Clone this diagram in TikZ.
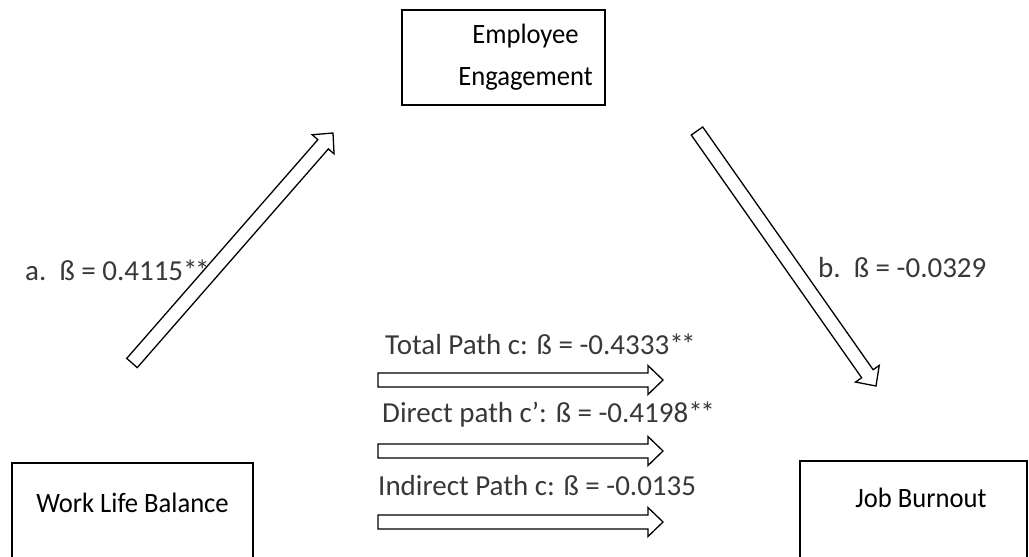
\documentclass[tikz,border=0pt]{standalone}
\usepackage{fontspec}
\setmainfont{Carlito}
\newfontfamily\boxfamily{Carlito}[FakeStretch=0.95]
\usetikzlibrary{calc}

\newcommand{\boxfont}{\boxfamily\fontsize{28}{42}\selectfont}
\newcommand{\pathfont}{\fontsize{29}{34}\selectfont}
\newcommand{\stars}{*\kern-2.5pt*}
%% hollow block arrow from #1 to #2
\newcommand{\hollowarrow}[2]{%
  \coordinate (hbase) at ($(#2)!15pt!(#1)$);
  \draw[arrowline] ($(#1)!7pt!90:(#2)$) -- ($(hbase)!7pt!-90:(#1)$)
    -- ($(hbase)!14.5pt!-90:(#1)$) -- (#2) -- ($(hbase)!14.5pt!90:(#1)$)
    -- ($(hbase)!7pt!90:(#1)$) -- ($(#1)!7pt!-90:(#2)$) -- cycle;}

\begin{document}
\begin{tikzpicture}[x=1pt,y=-1pt,
    box/.style={draw,line width=1.6pt,inner sep=0pt,font=\boxfont},
    arrowline/.style={draw,line width=1.3pt,line join=miter,fill=white},
    pathlbl/.style={anchor=west,inner sep=0pt,font=\pathfont,text=black!78}]
  \useasboundingbox (0,0) rectangle (1029,557);
  %% boxes
  \node[box,minimum width=203pt,minimum height=95pt,align=center] (engage) at (503.5,57.5)
    {\hspace*{44pt}Employee\\\hspace*{44pt}Engagement};
  \node[box,anchor=north,minimum width=241pt,text height=50pt,text depth=80pt] (balance) at (132.5,462) {Work Life Balance};
  \node[box,anchor=north,minimum width=227pt,text height=47pt,text depth=80pt] (burnout) at (913.5,460) {\hspace*{15pt}Job Burnout};
  %% paths a and b
  \coordinate (a0) at (132,363); \coordinate (a1) at (333,133);
  \coordinate (b0) at (697,131); \coordinate (b1) at (876,386);
  \hollowarrow{a0}{a1}
  \hollowarrow{b0}{b1}
  \node[pathlbl] (alabel) at (25,270) {a.\ \ ß = 0.4115\stars};
  \node[pathlbl] (blabel) at (818,268) {b.\ \ ß = -0.0329};
  %% paths c
  \foreach \x/\y/\nm/\lbl in {385/380/total/{Total Path c: ß = -0.4333\stars},
      382/451/direct/{Direct path c’: ß = -0.4198\stars},
      378/522/indirect/{Indirect Path c: ß = -0.0135}} {
    \coordinate (\nm0) at (378,\y); \coordinate (\nm1) at (663,\y);
    \hollowarrow{\nm0}{\nm1}
    \node[pathlbl] (\nm label) at (\x,\y-36) {\lbl};
  }
\end{tikzpicture}
\end{document}
